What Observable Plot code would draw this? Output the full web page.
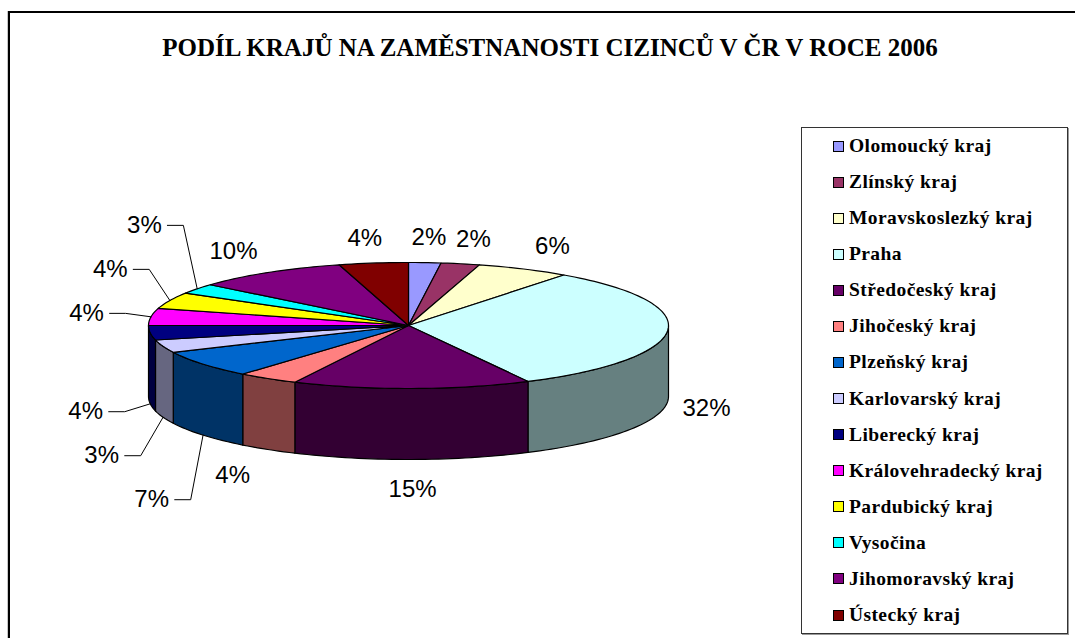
<!DOCTYPE html>
<html>
<head>
<meta charset="utf-8">
<script src="https://cdn.jsdelivr.net/npm/d3@7"></script>
<script src="https://cdn.jsdelivr.net/npm/@observablehq/plot@0.6"></script>
<style>
  html, body { margin: 0; padding: 0; background: #fff; }
  #wrap { position: relative; width: 1075px; height: 638px; overflow: hidden; background: #fff; }
  #frame { position: absolute; left: 8px; top: 11px; width: 1100px; height: 700px; border: 2px solid #000; box-shadow: -1px 0 0 #c8c8c8; }
  #title { position: absolute; left: 0; width: 1100px; top: 34px; text-align: center; font: bold 25px "Liberation Serif", "Times New Roman", serif; color: #000; white-space: nowrap; }
  #chart { position: absolute; left: 0; top: 0; }
  #legend { position: absolute; left: 801px; top: 127px; width: 265px; height: 505px; border: 1px solid #333; box-shadow: 1px 1px 0 #999; background: #fff; }
  .item { position: absolute; left: 31px; height: 22px; display: flex; align-items: center; font: bold 19.5px "Liberation Serif", "Times New Roman", serif; letter-spacing: 0.4px; color: #000; white-space: nowrap; }
  .sw { width: 9px; height: 9px; border: 1px solid #000; margin-right: 5px; flex: none; }
</style>
</head>
<body>
<div id="wrap">
  <div id="frame"></div>
  <div id="chart"></div>
  <div id="title">PODÍL KRAJŮ NA ZAMĚSTNANOSTI CIZINCŮ V ČR V ROCE 2006</div>
  <div id="legend"></div>
</div>
<script>
// ---- data ----
const regions = [
  "Olomoucký kraj", "Zlínský kraj", "Moravskoslezký kraj", "Praha",
  "Středočeský kraj", "Jihočeský kraj", "Plzeňský kraj", "Karlovarský kraj",
  "Liberecký kraj", "Královehradecký kraj", "Pardubický kraj", "Vysočina",
  "Jihomoravský kraj", "Ústecký kraj"
];
const shares = [2.0, 2.4, 5.8, 32.2, 14.8, 3.8, 7.0, 3.3, 3.7, 4.4, 4.2, 2.6, 9.5, 4.3];
const palette = [
  "#9999FF", "#993366", "#FFFFCC", "#CCFFFF",
  "#660066", "#FF8080", "#0066CC", "#CCCCFF",
  "#000080", "#FF00FF", "#FFFF00", "#00FFFF",
  "#800080", "#800000"
];

// ---- geometry of the tilted pie (unit radius) ----
const TILT = 63 / 260;     // vertical squash of the top face
const DEPTH = 71 / 260;    // thickness of the pie
const total = d3.sum(shares);

function shade(c) {
  const r = d3.rgb(c);
  return d3.rgb(r.r * 0.5, r.g * 0.5, r.b * 0.5).formatHex();
}

let acc = 0;
const slices = regions.map((name, i) => {
  const a0 = acc / total * 2 * Math.PI;
  acc += shares[i];
  const a1 = acc / total * 2 * Math.PI;
  return { name, value: shares[i], color: palette[i], side: shade(palette[i]), a0, a1, mid: (a0 + a1) / 2 };
});

function rim(a, drop = 0) { return { x: Math.sin(a), y: TILT * Math.cos(a) - drop }; }
function arc(a0, a1, drop) {
  const n = Math.max(2, Math.ceil((a1 - a0) / (Math.PI / 120)));
  return d3.range(n + 1).map(j => rim(a0 + (a1 - a0) * j / n, drop));
}

const tops = slices.flatMap((s, i) =>
  [{ x: 0, y: 0 }, ...arc(s.a0, s.a1, 0)].map(p => ({ ...p, id: i, fill: s.color })));

const walls = slices.flatMap((s, i) => {
  const b0 = Math.max(s.a0, Math.PI / 2), b1 = Math.min(s.a1, 3 * Math.PI / 2);
  if (b1 <= b0) return [];
  return [...arc(b0, b1, 0), ...arc(b0, b1, DEPTH).reverse()].map(p => ({ ...p, id: i, fill: s.side }));
});

// ---- data labels ----
const PX = 260;                    // pixels per unit
const LRX = 325 / PX, LRY = 88 / PX, LDROP = 76 / PX;
const GAPY = 44 / PX, GAPX = 55 / PX;
const RIGHT_LIMIT = (730 - 408) / PX;
const fs = 24;
function textW(t) { return (t.replace("%", "").length * 0.556 + 0.889) * fs / PX; }

const labels = slices.map((s, i) => {
  const sn = Math.sin(s.mid), cs = Math.cos(s.mid);
  const text = Math.round(s.value / total * 100) + "%";
  let x = LRX * sn;
  const w = textW(text);
  if (x + w / 2 > RIGHT_LIMIT) x = RIGHT_LIMIT - w / 2;
  return { i, text, w, x, y: LRY * cs - (cs < 0 ? LDROP : 0), sn, cs, mid: s.mid, clustered: false };
});

function spread(group, dir) {
  group.sort((a, b) => dir > 0 ? a.y - b.y : b.y - a.y);
  const placed = [];
  for (const l of group) {
    for (const p of placed) {
      if (Math.abs(p.x - l.x) < GAPX && (dir > 0 ? l.y < p.y + GAPY : l.y > p.y - GAPY)) {
        l.y = dir > 0 ? p.y + GAPY : p.y - GAPY;
        l.clustered = p.clustered = true;
      }
    }
    placed.push(l);
  }
}
const farLeft = labels.filter(l => l.sn < -0.5);
spread(farLeft.filter(l => l.y >= 0), +1);
spread(farLeft.filter(l => l.y < 0), -1);

const leaders = labels.filter(l => l.clustered).flatMap(l => {
  const t = l.cs >= 0 ? rim(l.mid, 0) : rim(l.mid, DEPTH);
  const start = { x: l.x + 23 / PX, y: l.y };
  const elbow = { x: start.x + 16 / PX, y: l.y };
  const pts = elbow.x < t.x ? [start, elbow, t] : [start, t];
  return pts.map(p => ({ ...p, id: l.i }));
});

// ---- chart ----
const chart = Plot.plot({
  width: 1075,
  height: 638,
  margin: 0,
  x: { domain: [-1, 1], range: [148, 668], axis: null },
  y: { domain: [-1, 1], range: [325 + PX, 325 - PX], axis: null },
  color: { type: "identity" },
  style: { background: "transparent" },
  marks: [
    Plot.line(walls, { x: "x", y: "y", z: "id", fill: "fill", stroke: "#000", strokeWidth: 1.2, curve: "linear-closed", strokeLinejoin: "round" }),
    Plot.line(tops, { x: "x", y: "y", z: "id", fill: "fill", stroke: "#000", strokeWidth: 1.2, curve: "linear-closed", strokeLinejoin: "round" }),
    Plot.line(leaders, { x: "x", y: "y", z: "id", stroke: "#000", strokeWidth: 1 }),
    Plot.text(labels, { x: "x", y: "y", text: "text", fontSize: fs, fontFamily: "Liberation Sans, Arial, sans-serif", fill: "#000" })
  ]
});
document.getElementById("chart").appendChild(chart);

// ---- legend ----
const legend = document.getElementById("legend");
regions.forEach((name, i) => {
  const item = document.createElement("div");
  item.className = "item";
  item.style.top = (18 - 11 + i * 36.08) + "px";
  const sw = document.createElement("span");
  sw.className = "sw";
  sw.style.background = palette[i];
  const tx = document.createElement("span");
  tx.textContent = name;
  item.appendChild(sw);
  item.appendChild(tx);
  legend.appendChild(item);
});
</script>
</body>
</html>
